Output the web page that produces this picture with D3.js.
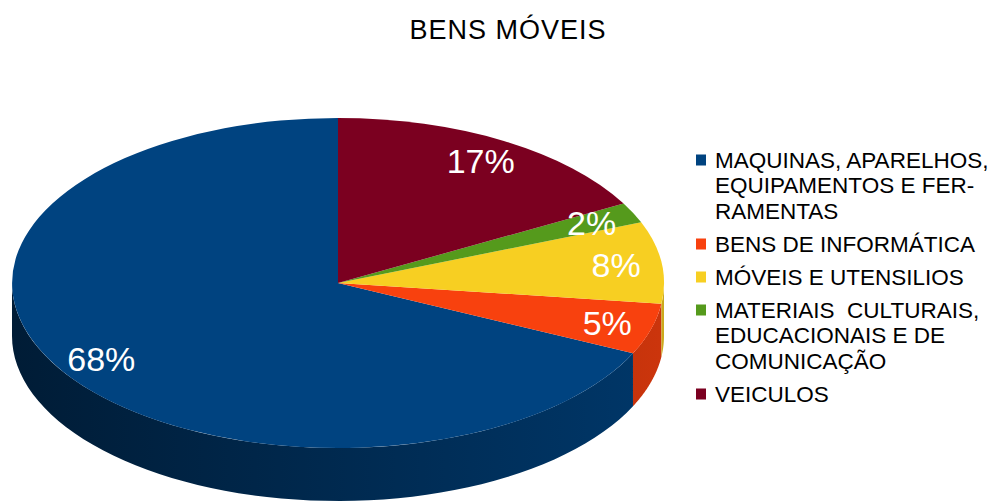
<!DOCTYPE html>
<html>
<head>
<meta charset="utf-8">
<script src="https://cdn.jsdelivr.net/npm/d3@7"></script>
<style>
  body { margin: 0; background: #fff; }
  svg { display: block; font-family: "Liberation Sans", Arial, sans-serif; }
  .legend text { white-space: pre; }
</style>
</head>
<body>
<svg id="chart"></svg>
<script>
// dados
const categories = [
  'MAQUINAS, APARELHOS, EQUIPAMENTOS E FERRAMENTAS',
  'BENS DE INFORMÁTICA',
  'MÓVEIS E UTENSILIOS',
  'MATERIAIS  CULTURAIS, EDUCACIONAIS E DE COMUNICAÇÃO',
  'VEICULOS'
]
const values = [68, 5, 8, 2, 17]
const legendLines = [
  ['MAQUINAS, APARELHOS,', 'EQUIPAMENTOS E FER-', 'RAMENTAS'],
  ['BENS DE INFORMÁTICA'],
  ['MÓVEIS E UTENSILIOS'],
  ['MATERIAIS  CULTURAIS,', 'EDUCACIONAIS E DE', 'COMUNICAÇÃO'],
  ['VEICULOS']
]
const colors = ['#004380', '#f8410e', '#f7cf22', '#559a1c', '#7b0020']
const title = 'BENS MÓVEIS'

const width = 990
const height = 503

// geometria da pizza 3D
const cx = 338, cy = 283, rx = 326, ry = 165, depth = 53

const color = d3.scaleOrdinal().domain(categories).range(colors)
const total = d3.sum(values)
const pct = d3.format('.0%')

const svg = d3.select('#chart').attr('width', width).attr('height', height)

svg.append('text')
  .attr('x', 508).attr('y', 39)
  .attr('text-anchor', 'middle')
  .attr('font-size', 27)
  .attr('letter-spacing', 1)
  .attr('fill', '#000')
  .text(title)

const data = categories.map((c, i) => ({ name: c, value: values[i] }))

// sentido anti-horario a partir do topo
const pie = d3.pie().sort(null).value(d => d.value).startAngle(0).endAngle(-2 * Math.PI)
const arcs = pie(data)

// gradientes das laterais
const defs = svg.append('defs')
arcs.forEach((d, i) => {
  const base = d3.color(color(d.data.name))
  const g = defs.append('linearGradient')
    .attr('id', 'side' + i)
    .attr('gradientUnits', 'userSpaceOnUse')
    .attr('x1', cx - rx).attr('x2', cx + rx).attr('y1', 0).attr('y2', 0)
  g.append('stop').attr('offset', '0%').attr('stop-color', base.darker(2.4))
  g.append('stop').attr('offset', '100%').attr('stop-color', base.darker(0.55))
})

const ex = a => cx + rx * Math.sin(a)
const ey = a => cy - ry * Math.cos(a)
const line = d3.line()

// laterais visiveis (metade da frente)
const sides = svg.append('g')
arcs.forEach((d, i) => {
  let lo = Math.min(d.startAngle, d.endAngle) + 2 * Math.PI
  let hi = Math.max(d.startAngle, d.endAngle) + 2 * Math.PI
  lo = Math.max(lo, Math.PI / 2)
  hi = Math.min(hi, 3 * Math.PI / 2)
  if (hi <= lo) return
  const steps = d3.range(0, 61).map(k => lo + (hi - lo) * k / 60)
  const top = steps.map(a => [ex(a), ey(a)])
  const bottom = steps.slice().reverse().map(a => [ex(a), ey(a) + depth])
  sides.append('path')
    .attr('d', line(top.concat(bottom)) + 'Z')
    .attr('fill', `url(#side${i})`)
})

// faces superiores
const arc = d3.arc().innerRadius(0).outerRadius(1)
const tops = svg.append('g').attr('transform', `translate(${cx},${cy}) scale(${rx},${ry})`)
tops.selectAll('path').data(arcs).enter().append('path')
  .attr('d', arc)
  .attr('fill', d => color(d.data.name))

// rotulos
const labelArc = d3.arc().innerRadius(0.86).outerRadius(0.86)
svg.append('g').selectAll('text').data(arcs).enter().append('text')
  .attr('x', d => cx + rx * labelArc.centroid(d)[0])
  .attr('y', d => cy + ry * labelArc.centroid(d)[1])
  .attr('dy', '0.36em')
  .attr('text-anchor', 'middle')
  .attr('font-size', 34)
  .attr('fill', '#fff')
  .text(d => pct(d.value / total))

// legenda
const lineH = 25.5, gap = 7.5
const legend = svg.append('g').attr('class', 'legend')
let y = 167.5
arcs.forEach((d, i) => {
  const lines = legendLines[i]
  legend.append('rect')
    .attr('x', 696).attr('y', y - 13)
    .attr('width', 10).attr('height', 11)
    .attr('fill', color(d.data.name))
  const t = legend.append('text').attr('font-size', 22.5).attr('fill', '#000')
  lines.forEach((l, j) => {
    t.append('tspan').attr('x', 715).attr('y', y + j * lineH).text(l)
  })
  y += lines.length * lineH + gap
})
</script>
</body>
</html>
